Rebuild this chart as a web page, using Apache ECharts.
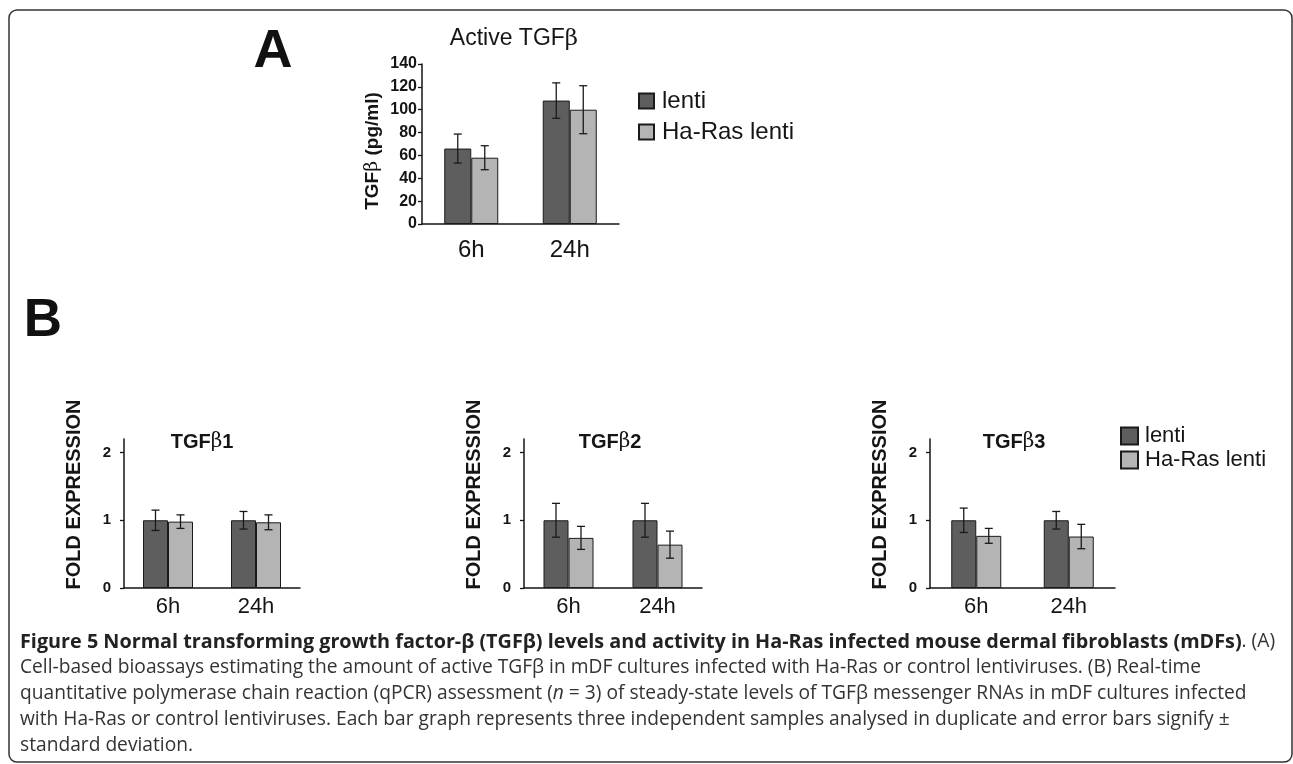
<!DOCTYPE html>
<html>
<head>
<meta charset="utf-8">
<title>TGFβ levels</title>
<script src="https://cdn.jsdelivr.net/npm/echarts@6/dist/echarts.min.js"></script>
<style>
  html, body { margin: 0; padding: 0; background: #fff; }
  #main { width: 1293px; height: 764px; }
</style>
</head>
<body>
<div id="main"></div>
<script>
// values
var hours = ['6h', '24h'];
var seriesNames = ['lenti', 'Ha-Ras lenti'];

// A: active TGFb, pg/ml
var activeLenti = [66, 108];
var activeLentiSd = [12.7, 15.5];
var activeRas = [58, 100];
var activeRasSd = [10.5, 21];

// B: fold expression
var tgfb1Lenti = [1.0, 1.0];
var tgfb1LentiSd = [0.15, 0.13];
var tgfb1Ras = [0.98, 0.97];
var tgfb1RasSd = [0.1, 0.11];

var tgfb2Lenti = [1.0, 1.0];
var tgfb2LentiSd = [0.25, 0.25];
var tgfb2Ras = [0.74, 0.64];
var tgfb2RasSd = [0.17, 0.2];

var tgfb3Lenti = [1.0, 1.0];
var tgfb3LentiSd = [0.18, 0.13];
var tgfb3Ras = [0.77, 0.76];
var tgfb3RasSd = [0.11, 0.18];

var foldTicks = [0, 1, 2];

var DARK = '#5e5e5e';
var LIGHT = '#b4b4b4';
var INK = '#151515';
var FONT = 'Liberation Sans';

var chart = echarts.init(document.getElementById('main'));

function errorBars(side, barWidth) {
  return function (params, api) {
    var i = api.value(0);
    var mean = api.value(1);
    var sd = api.value(2);
    var top = api.coord([i, mean + sd]);
    var bot = api.coord([i, mean - sd]);
    var x = top[0] + side * barWidth / 2;
    var cap = 4;
    var style = { stroke: '#1a1a1a', lineWidth: 1.3 };
    return {
      type: 'group',
      children: [
        { type: 'line', shape: { x1: x, y1: top[1], x2: x, y2: bot[1] }, style: style },
        { type: 'line', shape: { x1: x - cap, y1: top[1], x2: x + cap, y2: top[1] }, style: style },
        { type: 'line', shape: { x1: x - cap, y1: bot[1], x2: x + cap, y2: bot[1] }, style: style }
      ]
    };
  };
}

function barSeries(name, color, values, idx, bw) {
  return {
    name: name,
    type: 'bar',
    xAxisIndex: idx,
    yAxisIndex: idx,
    barWidth: bw,
    barGap: '0%',
    itemStyle: { color: color, borderColor: '#1a1a1a', borderWidth: 1 },
    data: values
  };
}

function errSeries(values, sds, side, idx, bw) {
  return {
    type: 'custom',
    xAxisIndex: idx,
    yAxisIndex: idx,
    z: 5,
    silent: true,
    renderItem: errorBars(side, bw),
    encode: { x: 0, y: 1 },
    data: hours.map(function (h, i) { return [i, values[i], sds[i]]; })
  };
}

var grids = [
  { left: 422, top: 64, width: 197, height: 160 },
  { left: 124, top: 439, width: 176, height: 149 },
  { left: 524, top: 439, width: 178, height: 149 },
  { left: 930, top: 439, width: 185, height: 149 }
];

var axisLineStyle = { show: true, lineStyle: { color: INK, width: 1.5 } };

var xAxes = grids.map(function (g, idx) {
  return {
    type: 'category',
    gridIndex: idx,
    data: hours,
    axisLine: axisLineStyle,
    axisTick: { show: false },
    axisLabel: {
      color: INK,
      fontFamily: FONT,
      fontSize: idx === 0 ? 24 : 22,
      margin: idx === 0 ? 14 : 8
    }
  };
});

var yAxes = [
  {
    type: 'value',
    gridIndex: 0,
    min: 0,
    max: 140,
    interval: 20,
    name: 'TGF{b|β} (pg/ml)',
    nameLocation: 'middle',
    nameGap: 40,
    nameTextStyle: {
      fontFamily: FONT, fontWeight: 'bold', fontSize: 19, color: INK,
      padding: [0, 14, 0, 0],
      rich: { b: { fontFamily: 'DejaVu Serif', fontWeight: 'normal', fontSize: 19, color: INK } }
    },
    axisLine: axisLineStyle,
    axisTick: { show: true, length: 4, lineStyle: { color: INK, width: 1.3 } },
    axisLabel: { color: INK, fontFamily: FONT, fontWeight: 'bold', fontSize: 16, margin: 5 },
    splitLine: { show: false }
  }
];
[1, 2, 3].forEach(function (idx) {
  yAxes.push({
    type: 'value',
    gridIndex: idx,
    min: 0,
    max: 2.2,
    name: 'FOLD EXPRESSION',
    nameLocation: 'middle',
    nameGap: 40,
    nameTextStyle: {
      fontFamily: FONT, fontWeight: 'bold', fontSize: 20, color: INK,
      padding: [0, 0, 0, 38]
    },
    axisLine: axisLineStyle,
    axisTick: { show: true, length: 4, customValues: foldTicks, lineStyle: { color: INK, width: 1.3 } },
    axisLabel: { color: INK, fontFamily: FONT, fontWeight: 'bold', fontSize: 15, margin: 13, customValues: foldTicks },
    splitLine: { show: false }
  });
});

var series = [
  barSeries('lenti', DARK, activeLenti, 0, 27),
  barSeries('Ha-Ras lenti', LIGHT, activeRas, 0, 27),
  errSeries(activeLenti, activeLentiSd, -1, 0, 27),
  errSeries(activeRas, activeRasSd, 1, 0, 27),

  barSeries('lenti', DARK, tgfb1Lenti, 1, 25),
  barSeries('Ha-Ras lenti', LIGHT, tgfb1Ras, 1, 25),
  errSeries(tgfb1Lenti, tgfb1LentiSd, -1, 1, 25),
  errSeries(tgfb1Ras, tgfb1RasSd, 1, 1, 25),

  barSeries('lenti', DARK, tgfb2Lenti, 2, 25),
  barSeries('Ha-Ras lenti', LIGHT, tgfb2Ras, 2, 25),
  errSeries(tgfb2Lenti, tgfb2LentiSd, -1, 2, 25),
  errSeries(tgfb2Ras, tgfb2RasSd, 1, 2, 25),

  barSeries('lenti', DARK, tgfb3Lenti, 3, 25),
  barSeries('Ha-Ras lenti', LIGHT, tgfb3Ras, 3, 25),
  errSeries(tgfb3Lenti, tgfb3LentiSd, -1, 3, 25),
  errSeries(tgfb3Ras, tgfb3RasSd, 1, 3, 25)
];

function panelTitle(x, y, num) {
  return {
    type: 'text',
    x: x,
    y: y,
    style: {
      text: '{t|TGF}{b|β}{t|' + num + '}',
      align: 'center',
      verticalAlign: 'middle',
      rich: {
        t: { fontFamily: FONT, fontWeight: 'bold', fontSize: 20, fill: INK },
        b: { fontFamily: 'DejaVu Serif', fontSize: 20, fill: INK }
      }
    }
  };
}

var capFont = 'Open Sans';
var capRich = {
  bo: { fontFamily: capFont, fontWeight: 'bold', fontSize: 19.8, fill: '#222' },
  r: { fontFamily: capFont, fontSize: 19.2, fill: '#333' },
  i: { fontFamily: capFont, fontStyle: 'italic', fontSize: 19.2, fill: '#333' }
};
var captionLines = [
  '{bo|Figure 5 Normal transforming growth factor-β (TGFβ) levels and activity in Ha-Ras infected mouse dermal fibroblasts (mDFs)}{r|. (A)}',
  '{r|Cell-based bioassays estimating the amount of active TGFβ in mDF cultures infected with Ha-Ras or control lentiviruses. (B) Real-time}',
  '{r|quantitative polymerase chain reaction (qPCR) assessment (}{i|n}{r| = 3) of steady-state levels of TGFβ messenger RNAs in mDF cultures infected}',
  '{r|with Ha-Ras or control lentiviruses. Each bar graph represents three independent samples analysed in duplicate and error bars signify ±}',
  '{r|standard deviation.}'
];
var captionY = [642, 668, 694, 720, 746];

var graphics = [
  {
    type: 'rect',
    shape: { x: 9, y: 10, width: 1283, height: 752, r: 8 },
    style: { fill: 'none', stroke: '#333', lineWidth: 1.5 },
    z: -1
  },
  {
    type: 'text', x: 273, y: 52,
    style: { text: 'A', align: 'center', verticalAlign: 'middle', font: 'bold 54px "Liberation Sans"', fill: '#111' }
  },
  {
    type: 'text', x: 43, y: 321,
    style: { text: 'B', align: 'center', verticalAlign: 'middle', font: 'bold 53px "Liberation Sans"', fill: '#111' }
  },
  {
    type: 'text', x: 514, y: 39,
    style: {
      text: '{t|Active TGF}{b|β}',
      align: 'center', verticalAlign: 'middle',
      rich: {
        t: { fontFamily: FONT, fontSize: 23, fill: INK },
        b: { fontFamily: 'DejaVu Serif', fontSize: 23, fill: INK }
      }
    }
  },
  panelTitle(202, 442, '1'),
  panelTitle(610, 442, '2'),
  panelTitle(1014, 442, '3')
];
captionLines.forEach(function (line, k) {
  graphics.push({
    type: 'text', x: 20, y: captionY[k],
    style: { text: line, align: 'left', verticalAlign: 'middle', rich: capRich }
  });
});

var option = {
  backgroundColor: '#fff',
  animation: false,
  grid: grids,
  xAxis: xAxes,
  yAxis: yAxes,
  legend: [
    {
      orient: 'vertical',
      left: 633,
      top: 84,
      data: seriesNames,
      icon: 'rect',
      itemWidth: 15,
      itemHeight: 15,
      itemGap: 7,
      textStyle: { fontFamily: FONT, fontSize: 24, lineHeight: 24, color: INK, padding: [0, 0, 0, 3] }
    },
    {
      orient: 'vertical',
      left: 1115,
      top: 420,
      data: seriesNames,
      icon: 'rect',
      itemWidth: 17,
      itemHeight: 17,
      itemGap: 2,
      textStyle: { fontFamily: FONT, fontSize: 22, lineHeight: 22, color: INK, padding: [0, 0, 0, 2] }
    }
  ],
  graphic: graphics,
  series: series
};

chart.setOption(option);
</script>
</body>
</html>
